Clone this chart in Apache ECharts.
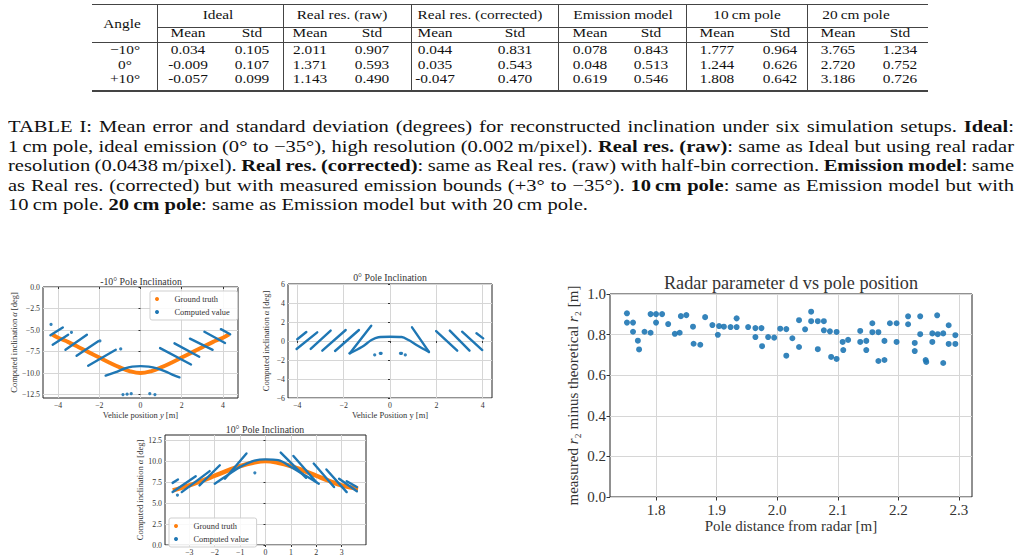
<!DOCTYPE html>
<html><head><meta charset="utf-8">
<script src="https://cdn.jsdelivr.net/npm/echarts@6/dist/echarts.min.js"></script>
<style>
html,body{margin:0;padding:0;background:#fff;}
#wrap{position:relative;width:1022px;height:556px;overflow:hidden;font-family:"Liberation Serif","Times New Roman",serif;color:#000;}
#chart{position:absolute;left:0;top:0;width:1022px;height:556px;}
.t{position:absolute;white-space:nowrap;font-size:13px;line-height:12px;transform:translate(-50%,-50%) scaleX(1.18);color:#111;}
.hl{position:absolute;height:1px;background:#444;}
.vl{position:absolute;width:1px;background:#444;}
#cap{position:absolute;left:8px;top:117px;width:1006px;font-size:16.3px;line-height:19.5px;color:#111;}
#cap div{white-space:nowrap;height:19.5px;}
#cap span{display:inline-block;transform-origin:0 50%;}
</style></head>
<body><div id="wrap"><div id="chart"></div><div id="tbl"></div><div id="cap"></div></div>
<script>
// ---------------- table data ----------------
const tableAngles = ["\u221210\u00b0", "0\u00b0", "+10\u00b0"];
const tableGroups = ["Ideal", "Real res. (raw)", "Real res. (corrected)", "Emission model", "10\u2009cm pole", "20\u2009cm pole"];
const idealMean = ["0.034", "-0.009", "-0.057"];
const idealStd  = ["0.105", "0.107", "0.099"];
const rawMean   = ["2.011", "1.371", "1.143"];
const rawStd    = ["0.907", "0.593", "0.490"];
const corrMean  = ["0.044", "0.035", "-0.047"];
const corrStd   = ["0.831", "0.543", "0.470"];
const emMean    = ["0.078", "0.048", "0.619"];
const emStd     = ["0.843", "0.513", "0.546"];
const p10Mean   = ["1.777", "1.244", "1.808"];
const p10Std    = ["0.964", "0.626", "0.642"];
const p20Mean   = ["3.765", "2.720", "3.186"];
const p20Std    = ["1.234", "0.752", "0.726"];

// ---------------- chart data ----------------
// -10 deg plot
const gtNeg10 = [[-4.3,-5.5],[-4,-5.9],[-3.5,-6.4],[-3,-7.0],[-2.5,-7.6],[-2,-8.2],[-1.5,-8.8],[-1,-9.35],[-0.5,-9.8],[0,-10.0],[0.5,-9.8],[1,-9.35],[1.5,-8.8],[2,-8.2],[2.5,-7.6],[3,-7.0],[3.5,-6.4],[4,-5.9],[4.3,-5.5]];
const cvNeg10Stripes = [
  [[-4.37,-5.6],[-3.77,-4.7]],
  [[-4.26,-6.7],[-3.51,-5.55]],
  [[-3.64,-7.3],[-2.6,-5.55]],
  [[-3.1,-8.0],[-2.05,-6.3]],
  [[-2.54,-9.15],[-1.2,-7.3]],
  [[-1.69,-10.3],[-1.2,-9.9],[-0.8,-9.5],[-0.4,-9.25],[0,-9.2],[0.4,-9.25],[0.8,-9.45],[1.2,-9.8],[1.6,-10.25],[1.89,-10.5]],
  [[0.95,-7.1],[2.45,-9.0]],
  [[1.65,-6.55],[2.85,-8.1]],
  [[2.4,-6.0],[3.5,-7.3]],
  [[3.1,-5.2],[4.1,-6.5]],
  [[3.9,-4.9],[4.35,-5.5]]
];
const cvNeg10Dots = [[-4.34,-4.35],[-3.35,-5.27],[-1.97,-6.27],[-0.96,-7.2],[-0.85,-12.5],[-0.65,-12.45],[-0.45,-12.4],[0.45,-12.4],[0.7,-12.5]];
// 0 deg plot
const cvZeroStripes = [
  [[-4.0,0.18],[-3.61,0.95]],
  [[-4.03,-0.84],[-3.14,0.91]],
  [[-3.42,-0.84],[-2.56,1.09]],
  [[-2.92,-1.02],[-1.91,1.16]],
  [[-2.37,-1.05],[-1.34,1.16]],
  [[-1.73,-1.3],[-0.81,1.6]],
  [[-1.75,-1.3],[-1.2,-0.6],[-0.8,0.1],[-0.5,0.4],[0,0.45],[0.5,0.42],[0.8,0.1],[1.2,-0.5],[1.68,-1.15]],
  [[0.95,1.44],[1.68,-1.15]],
  [[1.99,1.05],[2.9,-1.02]],
  [[2.58,1.09],[3.43,-1.02]],
  [[3.11,0.98],[3.98,-0.95]],
  [[3.73,0.81],[4.02,0.28]]
];
const cvZeroDots = [[-0.66,-1.47],[-0.42,-1.3],[-0.38,-1.3],[0.45,-1.3],[0.5,-1.3],[0.66,-1.47]];
// +10 deg plot
const gtPos10 = [[-3.65,6.5],[-3,7.1],[-2.5,7.65],[-2,8.25],[-1.5,8.85],[-1,9.4],[-0.5,9.8],[0,10.0],[0.5,9.8],[1,9.4],[1.5,8.85],[2,8.25],[2.5,7.65],[3,7.1],[3.65,6.7]];
const cvPos10Stripes = [
  [[-3.66,7.4],[-3.45,7.8]],
  [[-3.66,6.3],[-2.75,8.2]],
  [[-3.3,6.3],[-2.2,8.8]],
  [[-2.6,7.1],[-1.8,9.5]],
  [[-1.6,7.9],[-0.75,10.9]],
  [[-2.0,7.3],[-1.5,8.3],[-1,9.3],[-0.5,10.0],[0,10.2],[0.5,10.1],[1,9.3],[1.5,8.4],[2.1,7.3]],
  [[0.6,11.0],[1.6,8.0]],
  [[1.1,10.6],[2.0,7.5]],
  [[1.9,9.7],[2.7,6.9]],
  [[2.4,9.0],[3.2,6.3]],
  [[2.9,7.9],[3.6,6.4]],
  [[3.2,7.6],[3.6,6.9]]
];
const cvPos10Dots = [[-3.47,5.95],[-0.42,8.6]];
// radar parameter plot
const poleDistance = [1.752,1.752,1.762,1.762,1.770,1.772,1.781,1.791,1.791,1.800,1.800,1.810,1.820,1.831,1.839,1.841,1.850,1.861,1.862,1.873,1.881,1.893,1.902,1.904,1.912,1.923,1.933,1.933,1.952,1.964,1.964,1.974,1.975,1.985,1.995,2.005,2.015,2.015,2.025,2.036,2.036,2.046,2.056,2.056,2.067,2.067,2.077,2.077,2.087,2.089,2.098,2.098,2.108,2.109,2.117,2.137,2.137,2.147,2.147,2.157,2.157,2.167,2.167,2.177,2.177,2.186,2.197,2.197,2.216,2.216,2.227,2.227,2.236,2.236,2.245,2.246,2.256,2.256,2.264,2.265,2.274,2.274,2.283,2.283,2.294,2.294];
const r2Diff = [0.905,0.859,0.859,0.814,0.770,0.727,0.814,0.901,0.809,0.901,0.859,0.901,0.852,0.804,0.809,0.891,0.896,0.839,0.755,0.750,0.886,0.847,0.799,0.842,0.839,0.837,0.880,0.837,0.837,0.832,0.788,0.832,0.743,0.788,0.785,0.829,0.827,0.696,0.782,0.871,0.739,0.826,0.913,0.866,0.866,0.728,0.866,0.821,0.816,0.690,0.813,0.680,0.764,0.724,0.774,0.818,0.764,0.769,0.724,0.856,0.812,0.812,0.670,0.769,0.675,0.856,0.856,0.764,0.890,0.851,0.759,0.719,0.890,0.802,0.675,0.665,0.806,0.764,0.895,0.802,0.806,0.660,0.846,0.754,0.797,0.754];
const tickNeg10X = [-4,-2,0,2,4], tickNeg10Y = [0,-2.5,-5,-7.5,-10,-12.5];
const tickZeroX = [-4,-2,0,2,4], tickZeroY = [-6,-4,-2,0,2,4,6];
const tickPos10X = [-3,-2,-1,0,1,2,3], tickPos10Y = [0,2.5,5,7.5,10,12.5];
const tickRadarX = [1.8,1.9,2.0,2.1,2.2,2.3], tickRadarY = [0,0.2,0.4,0.6,0.8,1.0];

// ---------------- table render ----------------
(function(){
  const el = document.getElementById('tbl');
  let h = '';
  const hl = (x1,x2,y,th)=>{h += `<div class="hl" style="left:${x1}px;width:${x2-x1}px;top:${y}px;height:${th||1}px"></div>`;};
  const vl = (x,y1,y2)=>{h += `<div class="vl" style="left:${x}px;top:${y1}px;height:${y2-y1}px"></div>`;};
  const tx = (x,y,s)=>{h += `<div class="t" style="left:${x}px;top:${y}px">${s}</div>`;};
  hl(92,928,4); hl(157,928,27); hl(92,928,42); hl(92,928,90,1.6);
  [157,283,411,558,686,807].forEach(x=>vl(x,4,91));
  tx(122,24,'Angle');
  const groupCenters = [218,342,480,623,747,856];
  tableGroups.forEach((g,i)=>tx(groupCenters[i],15,g));
  const meanX = [188,310,435,590,717,838], stdX = [252,372,515,651,780,900];
  meanX.forEach(x=>tx(x,33,'Mean')); stdX.forEach(x=>tx(x,33,'Std'));
  const cols = [[idealMean,idealStd],[rawMean,rawStd],[corrMean,corrStd],[emMean,emStd],[p10Mean,p10Std],[p20Mean,p20Std]];
  const rowY = [50,64.5,79];
  tableAngles.forEach((a,r)=>{
    tx(125,rowY[r],a);
    cols.forEach((c,i)=>{ tx(meanX[i],rowY[r],c[0][r]); tx(stdX[i],rowY[r],c[1][r]); });
  });
  el.innerHTML = h;
  const ts = '\u2009';
  const lines = [
   'TABLE I: Mean error and standard deviation (degrees) for reconstructed inclination under six simulation setups. <b>Ideal</b>:',
   `1${ts}cm pole, ideal emission (0\u00b0 to \u221235\u00b0), high resolution (0.002${ts}m/pixel). <b>Real res. (raw)</b>: same as Ideal but using real radar`,
   `resolution (0.0438${ts}m/pixel). <b>Real res. (corrected)</b>: same as Real res. (raw) with half-bin correction. <b>Emission model</b>: same`,
   `as Real res. (corrected) but with measured emission bounds (+3\u00b0 to \u221235\u00b0). <b>10${ts}cm pole</b>: same as Emission model but with`,
   `10${ts}cm pole. <b>20${ts}cm pole</b>: same as Emission model but with 20${ts}cm pole.`];
  const cap = document.getElementById('cap');
  cap.innerHTML = lines.map(l=>`<div><span>${l}</span></div>`).join('');
  const spans = cap.querySelectorAll('span');
  const wLast = spans[4].getBoundingClientRect().width;
  const s = 580 / wLast;
  spans.forEach((sp,i)=>{
    if (i < 4) {
      const w = sp.getBoundingClientRect().width;
      const n = (sp.textContent.match(/ /g)||[]).length;
      sp.style.wordSpacing = ((1006/s - w)/n) + 'px';
    }
    sp.style.transform = `scaleX(${s})`;
  });
})();

// ---------------- chart ----------------
const SERIF = '"Liberation Serif","DejaVu Serif",serif';
const B = '#1f77b4', O = '#ff7f0e', TXT = '#333';
const fmt = (v,d)=> (v<0?'\u2212':'') + Math.abs(v).toFixed(d);

function mkAxis(kind, gi, min, max, ticks, dec, fs, margin, extra){
  return Object.assign({
    type:'value', gridIndex:gi, min, max,
    axisLine:{show:false},
    axisTick:{show:true, customValues:ticks, length: fs>10?3.5:2, lineStyle:{color:'#333'}},
    axisLabel:{customValues:ticks, formatter:v=>fmt(v,dec), fontSize:fs, fontFamily:SERIF, color:TXT, margin},
    splitLine:{show:true, lineStyle:{color:'#d6d6d6', width:1}}
  }, extra||{});
}
const grids = [
  {left:43, top:287, width:195, height:111},
  {left:288, top:284, width:204, height:114},
  {left:165, top:435, width:201, height:113},
  {left:610, top:294, width:362, height:203}
].map(g=>Object.assign(g,{show:true, borderColor:'#222', borderWidth:1, backgroundColor:'transparent', containLabel:false}));

const smallName = {fontSize:8.5, fontFamily:SERIF, color:TXT};
const xAxes = [
  mkAxis('x',0,-4.73,4.73,tickNeg10X,0,7.8,3,{name:'Vehicle position {i|y} [m]', nameLocation:'middle', nameGap:12, nameTextStyle:Object.assign({rich:{i:{fontStyle:'italic',fontSize:8.5,fontFamily:SERIF,color:TXT}}},smallName)}),
  mkAxis('x',1,-4.4,4.4,tickZeroX,0,7.8,3,{name:'Vehicle Position y [m]', nameLocation:'middle', nameGap:12, nameTextStyle:smallName}),
  mkAxis('x',2,-3.96,3.96,tickPos10X,0,7.8,3),
  mkAxis('x',3,1.724,2.3215,tickRadarX,1,15,5,{name:'Pole distance from radar [m]', nameLocation:'middle', nameGap:21, nameTextStyle:{fontSize:15, fontFamily:SERIF, color:TXT}})
];
const yName = (gap)=>({name:'Computed inclination {i|\u03b1} [deg]', nameLocation:'middle', nameRotate:90, nameGap:gap, nameTextStyle:Object.assign({rich:{i:{fontStyle:'italic',fontSize:8.5,fontFamily:SERIF,color:TXT}}},smallName)});
const yAxes = [
  mkAxis('y',0,-12.9,0,tickNeg10Y,1,7.8,3,yName(25)),
  mkAxis('y',1,-6,6,tickZeroY,0,7.8,3,yName(18)),
  mkAxis('y',2,0,13.1,tickPos10Y,1,7.8,3,yName(20)),
  mkAxis('y',3,0,1,tickRadarY,1,15,4,{name:'measured {i|r}\u2082 minus theoretical {i|r}\u2082 [m]', nameLocation:'middle', nameRotate:90, nameGap:30, nameTextStyle:{fontSize:15, fontFamily:SERIF, color:TXT, rich:{i:{fontStyle:'italic',fontSize:15,fontFamily:SERIF,color:TXT}}}})
];

const series = [];
function addGT(gi,data,w){ series.push({type:'line', name:'Ground truth', xAxisIndex:gi, yAxisIndex:gi, data, smooth:0.4, symbol:'none', lineStyle:{color:O, width:w}, itemStyle:{color:O}, z:2, silent:true}); }
function addStripes(gi,stripes){ stripes.forEach(s=>series.push({type:'line', name:'Computed value', xAxisIndex:gi, yAxisIndex:gi, data:s, smooth:s.length>2?0.35:false, symbol:'none', lineStyle:{color:B, width:2.4, cap:'round'}, itemStyle:{color:B}, z:3, silent:true})); }
function addDots(gi,data,size){ series.push({type:'scatter', name:'Computed value', xAxisIndex:gi, yAxisIndex:gi, data, symbolSize:size, itemStyle:{color:B, opacity:0.9}, z:3, silent:true}); }
addGT(0,gtNeg10,4); addStripes(0,cvNeg10Stripes); addDots(0,cvNeg10Dots,3.2);
addStripes(1,cvZeroStripes); addDots(1,cvZeroDots,3.2);
addGT(2,gtPos10,4.5); addStripes(2,cvPos10Stripes); addDots(2,cvPos10Dots,3.2);
addDots(3, poleDistance.map((x,i)=>[x,r2Diff[i]]), 6);

const legendBase = {orient:'vertical', icon:'circle', itemWidth:7, itemHeight:4, itemGap:5, padding:[4,8,4,5],
  borderColor:'#cfcfcf', borderWidth:1, borderRadius:2, backgroundColor:'rgba(255,255,255,0.85)',
  textStyle:{fontSize:8.4, fontFamily:SERIF, color:TXT, padding:[0,0,0,9]}, data:['Ground truth','Computed value'], selectedMode:false};

const titles = [
  ['-10\u00b0 Pole Inclination',141,281,9.8],
  ['0\u00b0 Pole Inclination',390,277,9.8],
  ['10\u00b0 Pole Inclination',265,429,9.8],
  ['Radar parameter d vs pole position',791,283,18.2]
];
const chart = echarts.init(document.getElementById('chart'), null, {renderer:'svg'});
chart.setOption({
  animation:false, backgroundColor:'transparent',
  grid: grids, xAxis: xAxes, yAxis: yAxes, series,
  legend:[Object.assign({left:150, top:291}, legendBase), Object.assign({left:169, top:518}, legendBase)],
  graphic: titles.map(t=>({type:'text', x:t[1], y:t[2], silent:true, style:{text:t[0], fontSize:t[3], fontFamily:SERIF, fill:TXT, textAlign:'center', textVerticalAlign:'middle'}}))
});
</script></body></html>
